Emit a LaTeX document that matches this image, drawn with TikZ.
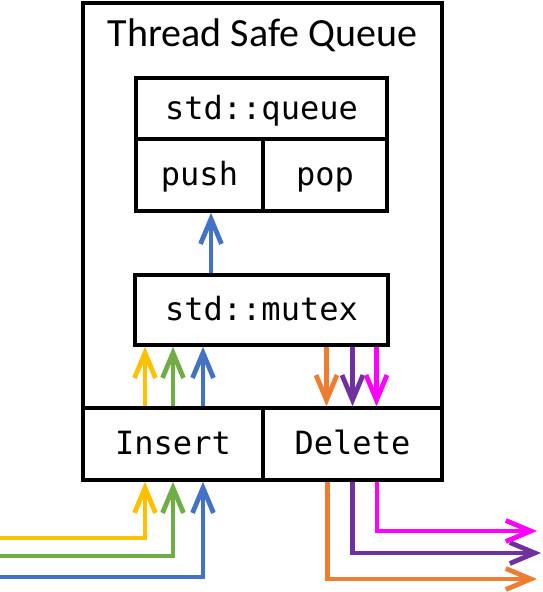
\documentclass[tikz,border=0pt]{standalone}
\usepackage{fontspec}
\setmainfont{Carlito}
\setmonofont{DejaVu Sans Mono}
\usetikzlibrary{arrows.meta}

\definecolor{qyellow}{HTML}{FFC000}
\definecolor{qgreen}{HTML}{70AD47}
\definecolor{qblue}{HTML}{4472C4}
\definecolor{qorange}{HTML}{ED7D31}
\definecolor{qpurple}{HTML}{7030A0}
\definecolor{qmagenta}{HTML}{FF00FF}

\begin{document}
\begin{tikzpicture}[x=1pt,y=-1pt,line width=3.5pt,
                    flow/.style={line width=4.8pt,-{Straight Barb[length=25pt,width=21pt]}}]
          \tikzstyle{every node}=[font=\ttfamily\fontsize{32}{38}\selectfont]
          \tikzstyle{cell}=[draw,rectangle,inner sep=0pt,text height=26pt,text depth=4.5pt]
          \useasboundingbox (0,0) rectangle (542,592);

          \node[cell,minimum width=359pt,minimum height=477pt] (tsq) at (262.5,241.5) {};
          \node[font=\rmfamily\fontsize{40}{46}\selectfont,anchor=base] (title) at (262.5,46) {Thread Safe Queue};

          \node[cell,minimum width=251pt,minimum height=61pt]  (queue)  at (261.5,108.5) {std::queue};
          \node[cell,minimum width=127pt,minimum height=72pt]  (push)   at (199.5,175)   {push};
          \node[cell,minimum width=124pt,minimum height=72pt]  (pop)    at (325,175)     {pop};
          \node[cell,minimum width=253pt,minimum height=70pt]  (mutex)  at (261.5,310)   {std::mutex};
          \node[cell,minimum width=180pt,minimum height=72pt]  (insert) at (173,444)     {Insert};
          \node[cell,minimum width=179pt,minimum height=72pt]  (delete) at (352.5,444)   {Delete};

          % incoming calls
          \coordinate (inY) at (0,538);
          \coordinate (inG) at (0,556);
          \coordinate (inB) at (0,577);
          % outgoing calls
          \coordinate (outM) at (537,531);
          \coordinate (outP) at (541,553);
          \coordinate (outO) at (537,579);

          \draw[flow,qyellow] (inY) -| ([xshift=-28pt]insert.south);
          \draw[flow,qgreen]  (inG) -| (insert.south);
          \draw[flow,qblue]   (inB) -| ([xshift=30pt]insert.south);

          \draw[flow,qyellow] ([xshift=-28pt]insert.north) -- ([xshift=-28pt]insert.north |- mutex.south);
          \draw[flow,qgreen]  (insert.north) -- (insert.north |- mutex.south);
          \draw[flow,qblue]   ([xshift=30pt]insert.north) -- ([xshift=30pt]insert.north |- mutex.south);

          \draw[flow,qblue] ([xshift=-50.5pt]mutex.north) -- ([xshift=-50.5pt]mutex.north |- push.south);

          \draw[flow,qorange]  ([xshift=-26pt]delete.north |- mutex.south) -- ([xshift=-26pt]delete.north);
          \draw[flow,qpurple]  (delete.north |- mutex.south) -- (delete.north);
          \draw[flow,qmagenta] ([xshift=24pt]delete.north |- mutex.south) -- ([xshift=24pt]delete.north);

          \draw[flow,qorange]  ([xshift=-25pt]delete.south) |- (outO);
          \draw[flow,qpurple]  (delete.south) |- (outP);
          \draw[flow,qmagenta] ([xshift=24.5pt]delete.south) |- (outM);

        \end{tikzpicture}
\end{document}
